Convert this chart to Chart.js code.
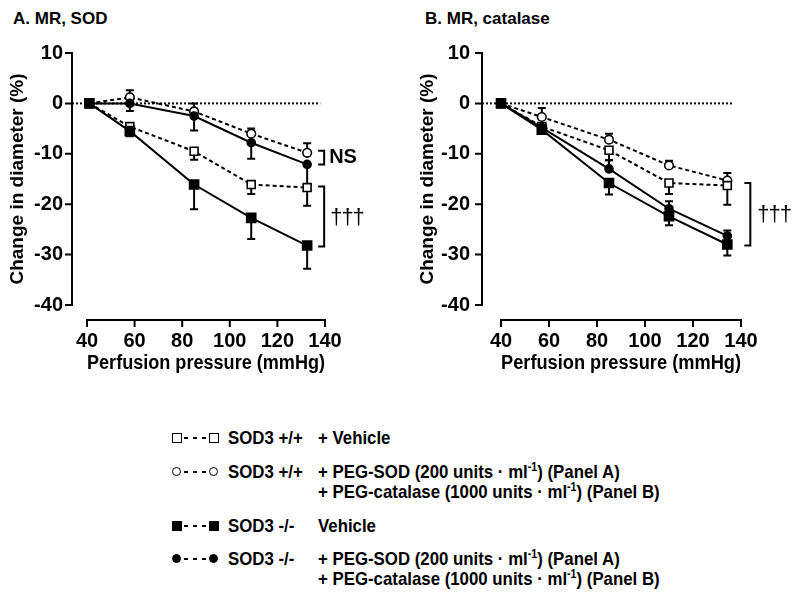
<!DOCTYPE html>
<html>
<head>
<meta charset="utf-8">
<script src="https://cdn.jsdelivr.net/npm/chart.js@4.4.1/dist/chart.umd.min.js"></script>
<style>
  html, body { margin: 0; padding: 0; background: #fff; }
  body { width: 800px; height: 602px; position: relative; overflow: hidden;
         font-family: "Liberation Sans Narrow", "Arial Narrow", "Liberation Sans", sans-serif; font-weight: bold; color: #000; }
  canvas { position: absolute; top: 0; }
  .ptitle { position: absolute; font-size: 17px; line-height: 20px; white-space: nowrap; }
  .lg { position: absolute; font-size: 19px; line-height: 20px; white-space: nowrap;
        transform: scaleX(0.885); transform-origin: 0 50%; }
  .lg sup { font-size: 12px; line-height: 0; vertical-align: 0.55em; }
  .mk { position: absolute; box-sizing: border-box; border: 1.5px solid #000; background: #fff; }
  .mk.sq { width: 10px; height: 10px; }
  .mk.ci { width: 9px; height: 9px; border-radius: 50%; }
  .mk.fill { background: #000; }
  .dash { position: absolute; height: 2px; width: 26px;
          background: repeating-linear-gradient(90deg, #000 0 4px, transparent 4px 9px); }
</style>
</head>
<body>
<div class="ptitle" style="left:13px; top:9px;">A. MR, SOD</div>
<div class="ptitle" style="left:425px; top:9px;">B. MR, catalase</div>
<canvas id="cA" width="400" height="400" style="left:0px;"></canvas>
<canvas id="cB" width="400" height="400" style="left:400px;"></canvas>
<div id="legend"></div>
<script>
// ---------- data ----------
const xTicks = [40, 60, 80, 100, 120, 140];
const yTicks = [10, 0, -10, -20, -30, -40];

// Panel A: MR, SOD
const pressureA = [41, 58, 85, 109, 132.5];
const wtVehA    = [0, -4.6, -9.5, -16.1, -16.7];
const wtVehErrA = [0, 1.0, 1.7, 1.9, 3.6];
const wtPegA    = [0, 1.2, -1.6, -6.0, -9.8];
const wtPegErrA = [0, 1.4, 1.6, 1.0, 1.9];
const koVehA    = [0, -5.5, -16.1, -22.7, -28.2];
const koVehErrA = [0, 1.0, 4.9, 4.2, 4.6];
const koPegA    = [0, 0, -2.5, -7.8, -12.1];
const koPegErrA = [0, 1.5, 2.9, 3.2, 4.0];

// Panel B: MR, catalase
const pressureB = [40, 57, 85, 110, 134.3];
const wtVehB    = [0, -4.6, -9.3, -15.8, -16.3];
const wtVehErrB = [0, 0.8, 2.0, 2.2, 3.8];
const wtPegB    = [0, -2.7, -7.2, -12.3, -15.3];
const wtPegErrB = [0, 1.8, 1.2, 0.9, 1.5];
const koVehB    = [0, -5.2, -15.8, -22.4, -28.0];
const koVehErrB = [0, 0.8, 2.3, 1.8, 2.2];
const koPegB    = [0, -4.8, -13.0, -20.9, -26.3];
const koPegErrB = [0, 0.8, 1.7, 1.5, 1.1];

const xTitle = 'Perfusion pressure (mmHg)';
const yTitle = 'Change in diameter (%)';

// ---------- styles ----------
const NARROW = '"Liberation Sans Narrow", "Arial Narrow", "Liberation Sans", sans-serif';
const STY = {
  wtVeh: { pointStyle: 'rect',   pointRadius: 5.6, bg: '#fff', dash: [4, 3] },
  wtPeg: { pointStyle: 'circle', pointRadius: 4.3, bg: '#fff', dash: [4, 3] },
  koVeh: { pointStyle: 'rect',   pointRadius: 6.4, bg: '#000', dash: [] },
  koPeg: { pointStyle: 'circle', pointRadius: 4.0, bg: '#000', dash: [] }
};

function series(label, xs, ys, errs, dir, key) {
  const s = STY[key];
  return {
    label,
    data: xs.map((x, i) => ({ x, y: ys[i] })),
    errors: errs, errDir: dir,
    borderColor: '#000', borderWidth: 2, borderDash: s.dash,
    pointStyle: s.pointStyle, pointRadius: s.pointRadius,
    pointBackgroundColor: s.bg, pointBorderColor: '#000', pointBorderWidth: 1.6,
    tension: 0, clip: false, fill: false
  };
}

const prismPlugin = {
  id: 'prism',
  beforeDatasetsDraw(chart, args, o) {
    const { ctx, chartArea, scales: { x, y } } = chart;
    ctx.save();
    ctx.strokeStyle = '#000';
    ctx.lineWidth = 2;
    ctx.setLineDash([2, 2]);
    const y0 = y.getPixelForValue(0);
    ctx.beginPath();
    ctx.moveTo(chartArea.left - o.yGap, y0);
    ctx.lineTo(x.getPixelForValue(o.zeroEnd), y0);
    ctx.stroke();
    ctx.setLineDash([]);
    chart.data.datasets.forEach(ds => {
      ds.data.forEach((p, j) => {
        const e = ds.errors[j];
        if (!e) return;
        const px = x.getPixelForValue(p.x);
        const py = y.getPixelForValue(p.y);
        const pe = y.getPixelForValue(p.y + ds.errDir * e);
        ctx.lineWidth = 2;
        ctx.beginPath();
        ctx.moveTo(px, py); ctx.lineTo(px, pe);
        ctx.moveTo(px - 4, pe); ctx.lineTo(px + 4, pe);
        ctx.stroke();
      });
    });
    ctx.restore();
  },
  afterDraw(chart, args, o) {
    const { ctx, chartArea, scales: { x, y } } = chart;
    ctx.save();
    ctx.strokeStyle = '#000';
    ctx.fillStyle = '#000';
    ctx.lineWidth = 2;
    ctx.lineCap = 'square';
    const ax = chartArea.left - o.yGap;
    ctx.beginPath();
    ctx.moveTo(ax, y.getPixelForValue(yTicks[0]));
    ctx.lineTo(ax, y.getPixelForValue(yTicks[yTicks.length - 1]));
    yTicks.forEach(v => { const py = y.getPixelForValue(v); ctx.moveTo(ax - 6, py); ctx.lineTo(ax, py); });
    ctx.stroke();
    const ay = chartArea.bottom + o.xGap;
    ctx.beginPath();
    ctx.moveTo(x.getPixelForValue(xTicks[0]), ay);
    ctx.lineTo(x.getPixelForValue(xTicks[xTicks.length - 1]), ay);
    xTicks.forEach(v => { const px = x.getPixelForValue(v); ctx.moveTo(px, ay); ctx.lineTo(px, ay + 6); });
    ctx.stroke();
    ctx.lineCap = 'butt';
    o.brackets.forEach(b => {
      const bx = x.getPixelForValue(b.atX) + b.dx;
      const y1 = y.getPixelForValue(b.y1), y2 = y.getPixelForValue(b.y2);
      ctx.beginPath();
      ctx.moveTo(bx - 6, y1); ctx.lineTo(bx, y1); ctx.lineTo(bx, y2); ctx.lineTo(bx - 6, y2);
      ctx.stroke();
      ctx.font = b.font;
      if (b.spacing) ctx.letterSpacing = b.spacing;
      ctx.textAlign = 'left';
      ctx.textBaseline = 'middle';
      ctx.fillText(b.text, bx + b.tx, (y1 + y2) / 2 + b.ty);
      ctx.letterSpacing = '0px';
    });
    ctx.restore();
  }
};

function makeChart(id, xs, sets, cfg) {
  const font = { family: NARROW, size: 20, weight: 'bold' };
  const tfont = { family: NARROW, size: 19, weight: 'bold' };
  return new Chart(document.getElementById(id), {
    type: 'line',
    data: { datasets: sets },
    plugins: [prismPlugin],
    options: {
      responsive: false, animation: false, events: [],
      layout: { padding: { top: 53, left: 0, right: cfg.padRight, bottom: 25 } },
      plugins: {
        legend: { display: false }, tooltip: { enabled: false }, title: { display: false },
        prism: cfg.prism
      },
      scales: {
        x: {
          type: 'linear', min: 40, max: 140,
          afterBuildTicks: s => { s.ticks = xTicks.map(v => ({ value: v })); },
          afterFit: s => { s.height = 70; },
          grid: { display: false, drawTicks: false }, border: { display: false },
          ticks: { padding: 24, color: '#000', font, maxRotation: 0, autoSkip: false },
          title: { display: true, text: xTitle, color: '#000', font, padding: 0 }
        },
        y: {
          type: 'linear', min: -40, max: 10,
          afterBuildTicks: s => { s.ticks = yTicks.map(v => ({ value: v })); },
          afterFit: s => { s.width = cfg.yWidth; },
          grid: { display: false, drawTicks: false }, border: { display: false },
          ticks: { padding: cfg.yTickPad, color: '#000', font, autoSkip: false },
          title: { display: true, text: yTitle, color: '#000', font: tfont, padding: { top: cfg.yTitlePad, bottom: 0 } }
        }
      }
    }
  });
}

const boldNarrow = 'bold 20px ' + NARROW;
const dagger = '22px "Liberation Sans", Arial, sans-serif';

makeChart('cA', pressureA, [
  series('SOD3 -/- Vehicle', pressureA, koVehA, koVehErrA, -1, 'koVeh'),
  series('SOD3 -/- + PEG-SOD', pressureA, koPegA, koPegErrA, -1, 'koPeg'),
  series('SOD3 +/+ + Vehicle', pressureA, wtVehA, wtVehErrA, -1, 'wtVeh'),
  series('SOD3 +/+ + PEG-SOD', pressureA, wtPegA, wtPegErrA, 1, 'wtPeg')
], {
  padRight: 75, yWidth: 87, yTickPad: 24, yTitlePad: 6,
  prism: {
    yGap: 15, xGap: 15, zeroEnd: 138,
    brackets: [
      { atX: pressureA[4], dx: 17, y1: wtPegA[4] + 0.4, y2: koPegA[4], text: 'NS', font: boldNarrow, tx: 5, ty: 0 },
      { atX: pressureA[4], dx: 17, y1: wtVehA[4] + 0.2, y2: koVehA[4] - 0.2, text: '\u2020\u2020\u2020', font: dagger, spacing: '-1px', tx: 6, ty: 1 }
    ]
  }
});

makeChart('cB', pressureB, [
  series('SOD3 -/- Vehicle', pressureB, koVehB, koVehErrB, -1, 'koVeh'),
  series('SOD3 -/- + PEG-catalase', pressureB, koPegB, koPegErrB, 1, 'koPeg'),
  series('SOD3 +/+ + Vehicle', pressureB, wtVehB, wtVehErrB, -1, 'wtVeh'),
  series('SOD3 +/+ + PEG-catalase', pressureB, wtPegB, wtPegErrB, 1, 'wtPeg')
], {
  padRight: 59, yWidth: 101, yTickPad: 31, yTitlePad: 16,
  prism: {
    yGap: 19, xGap: 15, zeroEnd: 137,
    brackets: [
      { atX: pressureB[4], dx: 23, y1: wtVehB[4] + 0.5, y2: koVehB[4] - 0.2, text: '\u2020\u2020\u2020', font: dagger, spacing: '-1px', tx: 7, ty: 1 }
    ]
  }
});

// ---------- legend (HTML text) ----------
const ml = 'ml<sup>-1</sup>';
const legendRows = [
  { top: 428, mk: 'sq', fill: false, geno: 'SOD3 +/+', desc: '+ Vehicle' },
  { top: 462, mk: 'ci', fill: false, geno: 'SOD3 +/+', desc: '+ PEG-SOD (200 units \u00b7 ' + ml + ') (Panel A)' },
  { top: 482, mk: null, geno: '', desc: '+ PEG-catalase (1000 units \u00b7 ' + ml + ') (Panel B)' },
  { top: 516, mk: 'sq', fill: true, geno: 'SOD3 -/-', desc: 'Vehicle' },
  { top: 549, mk: 'ci', fill: true, geno: 'SOD3 -/-', desc: '+ PEG-SOD (200 units \u00b7 ' + ml + ') (Panel A)' },
  { top: 569, mk: null, geno: '', desc: '+ PEG-catalase (1000 units \u00b7 ' + ml + ') (Panel B)' }
];
const lg = document.getElementById('legend');
legendRows.forEach(r => {
  let h = '';
  if (r.mk) {
    const c = 'mk ' + r.mk + (r.fill ? ' fill' : '');
    const cy = r.top + 10;
    h += `<div class="${c}" style="left:172px; top:${cy - 5}px"></div>`;
    h += `<div class="dash" style="left:184px; top:${cy - 1}px"></div>`;
    h += `<div class="${c}" style="left:209px; top:${cy - 5}px"></div>`;
    h += `<div class="lg" style="left:228px; top:${r.top}px">${r.geno}</div>`;
  }
  h += `<div class="lg" style="left:318px; top:${r.top}px">${r.desc}</div>`;
  lg.insertAdjacentHTML('beforeend', h);
});
</script>
</body>
</html>
